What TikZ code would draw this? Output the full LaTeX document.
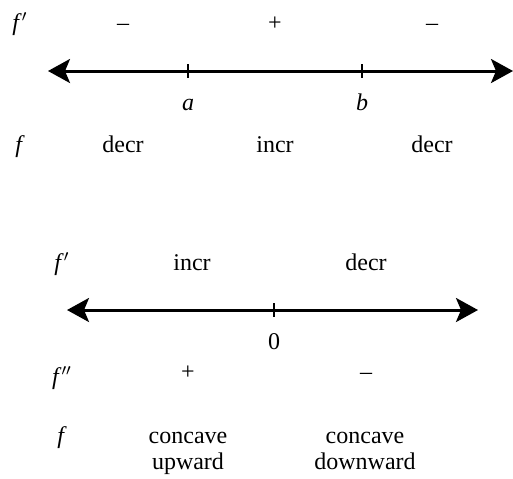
\documentclass[tikz,border=0pt]{standalone}
\usepackage{fontspec}
\setmainfont{Liberation Serif}
\usepackage{tikz}
\usetikzlibrary{arrows.meta}

\begin{document}
\begin{tikzpicture}[x=0.5pt,y=-0.5pt,>={Stealth[length=11pt,width=12pt,inset=2.5pt]},
		lbl/.style={font=\fontsize{12}{13}\selectfont,inner sep=0pt,anchor=base},
		numline/.style={line width=1.5pt,<->},
		tickmark/.style={line width=1.4pt}]
		
		\useasboundingbox (0,0) rectangle (513,478);
		
		% Sign of f' around a and b
		\node[lbl] (fp1) at (20,30) {\textit{f}$'$};
		\node[lbl] (s1) at (123,30) {--};
		\node[lbl] (s2) at (275,30) {+};
		\node[lbl] (s3) at (432,30) {--};
		
		\coordinate (L1) at (48,71);
		\coordinate (R1) at (513,71);
		\draw[numline] (L1) -- (R1);
		
		% Critical points
		\foreach \x/\name/\txt in {188/pa/a, 362/pb/b} {
			\draw[tickmark] (\x,64) -- (\x,78);
			\node[lbl] (\name) at (\x,110) {\textit{\txt}};
		}
		
		\node[lbl] (f1) at (20,152) {\textit{f}};
		\node[lbl] (m1) at (123,152) {decr};
		\node[lbl] (m2) at (275,152) {incr};
		\node[lbl] (m3) at (432,152) {decr};
		
		% Second picture: inflection point at 0
		\node[lbl] (fp2) at (62,270) {\textit{f}$'$};
		\node[lbl] (n1) at (192,270) {incr};
		\node[lbl] (n2) at (366,270) {decr};
		
		\coordinate (L2) at (67,310);
		\coordinate (R2) at (478,310);
		\draw[numline] (L2) -- (R2);
		\draw[tickmark] (274,303) -- (274,317);
		\node[lbl] (zero) at (274,349) {0};
		
		\node[lbl] (fpp) at (62,384) {\textit{f}$''$};
		\node[lbl] (c1) at (188,379) {+};
		\node[lbl] (c2) at (366,379) {--};
		
		\node[lbl] (f2) at (62,443) {\textit{f}};
		\node[lbl,anchor=north,align=center] (cu) at (188,432) {concave\\upward};
		\node[lbl,anchor=north,align=center] (cd) at (365,432) {concave\\downward};
		
	\end{tikzpicture}
\end{document}
